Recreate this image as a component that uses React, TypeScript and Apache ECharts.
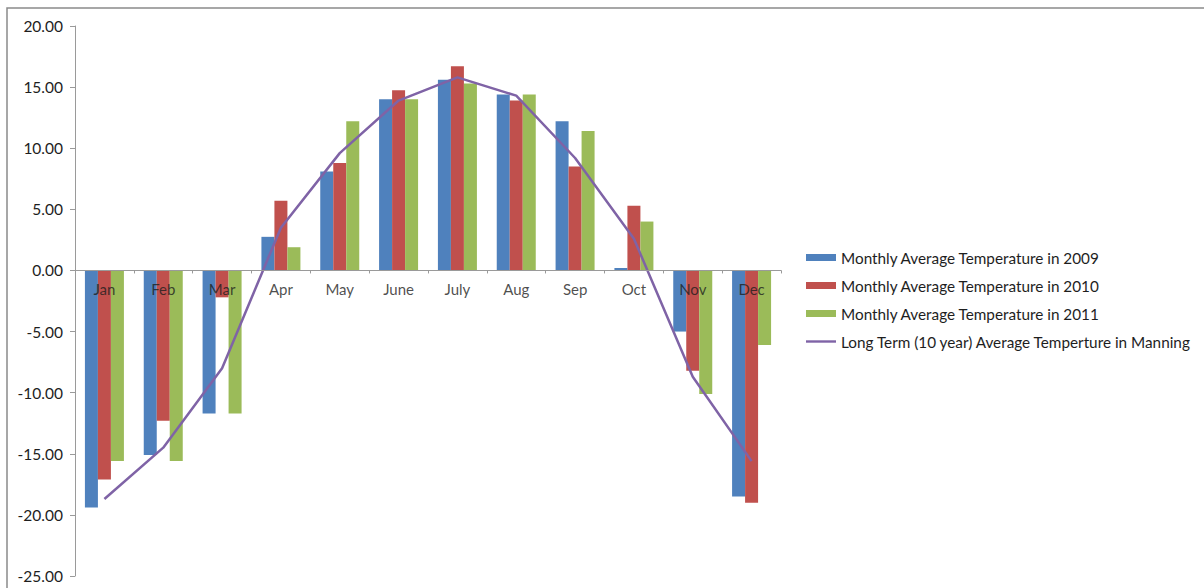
import React, { useEffect, useRef } from "react";
import * as echarts from "echarts";

const months = ["Jan", "Feb", "Mar", "Apr", "May", "June", "July", "Aug", "Sep", "Oct", "Nov", "Dec"];

const temp2009 = [-19.4, -15.1, -11.7, 2.75, 8.1, 14.0, 15.6, 14.4, 12.2, 0.2, -5.0, -18.5];
const temp2010 = [-17.1, -12.3, -2.2, 5.7, 8.8, 14.75, 16.7, 13.9, 8.5, 5.3, -8.2, -19.0];
const temp2011 = [-15.6, -15.6, -11.7, 1.9, 12.2, 14.0, 15.3, 14.4, 11.4, 4.0, -10.1, -6.1];
const longTerm = [-18.7, -14.5, -8.0, 3.5, 9.6, 13.9, 15.8, 14.3, 9.2, 2.6, -8.7, -15.6];

const seriesNames = [
  "Monthly Average Temperature in 2009",
  "Monthly Average Temperature in 2010",
  "Monthly Average Temperature in 2011",
  "Long Term (10 year) Average Temperture in Manning",
];

const FONT = "Lato, 'Open Sans', sans-serif";
const TEXT = "#1e1e1e";

export default function App() {
  const ref = useRef<HTMLDivElement>(null);

  useEffect(() => {
    if (!ref.current) return;
    const chart = echarts.init(ref.current, undefined, { renderer: "svg" });
    const barBase = { type: "bar" as const, barWidth: 13, barGap: "0%" };
    chart.setOption({
      animation: false,
      backgroundColor: "#ffffff",
      textStyle: { fontFamily: FONT },
      graphic: [
        {
          type: "rect",
          shape: { x: 7, y: 8, width: 1220, height: 620 },
          style: { fill: "none", stroke: "#8a8a8a", lineWidth: 1.5 },
          silent: true,
        },
      ],
      grid: { left: 75, right: 423, top: 26, bottom: 12, outerBoundsMode: "none", containLabel: false },
      legend: {
        orient: "vertical",
        left: 801,
        top: 245,
        itemWidth: 30,
        itemHeight: 7,
        itemGap: 13,
        textStyle: { fontFamily: FONT, fontSize: 15.3, color: TEXT },
        data: [
          { name: seriesNames[0], icon: "rect" },
          { name: seriesNames[1], icon: "rect" },
          { name: seriesNames[2], icon: "rect" },
          { name: seriesNames[3], icon: "path://M0,0H30V2.4H0Z" },
        ],
      },
      xAxis: {
        type: "category",
        data: months,
        z: 10,
        axisLine: { onZero: true, lineStyle: { color: "#9a9a9a", width: 1 } },
        axisTick: { show: true, length: 3, lineStyle: { color: "#9a9a9a" } },
        axisLabel: { show: false },
        splitLine: { show: false },
      },
      yAxis: {
        type: "value",
        min: -25,
        max: 20,
        interval: 5,
        axisLine: { show: true, lineStyle: { color: "#9a9a9a", width: 1 } },
        axisTick: { show: true, length: 5, lineStyle: { color: "#9a9a9a" } },
        axisLabel: {
          margin: 12,
          fontFamily: FONT,
          fontSize: 15.5,
          color: TEXT,
          formatter: (v: number) => v.toFixed(2),
        },
        splitLine: { show: false },
      },
      series: [
        { ...barBase, name: seriesNames[0], data: temp2009, itemStyle: { color: "#4F81BD" } },
        { ...barBase, name: seriesNames[1], data: temp2010, itemStyle: { color: "#C0504D" } },
        { ...barBase, name: seriesNames[2], data: temp2011, itemStyle: { color: "#9BBB59" } },
        {
          type: "line",
          name: seriesNames[3],
          data: longTerm,
          z: 5,
          showSymbol: false,
          symbol: "none",
          lineStyle: { color: "#7F63A6", width: 2.5 },
          itemStyle: { color: "#7F63A6" },
        },
        {
          // month names sit just under the zero line, above the bars
          type: "scatter",
          name: "monthLabels",
          data: months.map((m) => [m, 0]),
          symbolSize: 0,
          z: 10,
          silent: true,
          label: {
            show: true,
            position: "bottom",
            distance: 11,
            fontFamily: FONT,
            fontSize: 15,
            color: TEXT,
            formatter: (p: any) => months[p.dataIndex],
          },
        },
      ],
    });
    return () => chart.dispose();
  }, []);

  return (
    <div
      ref={ref}
      style={{ position: "absolute", left: 0, top: 0, width: 1204, height: 588 }}
    />
  );
}
